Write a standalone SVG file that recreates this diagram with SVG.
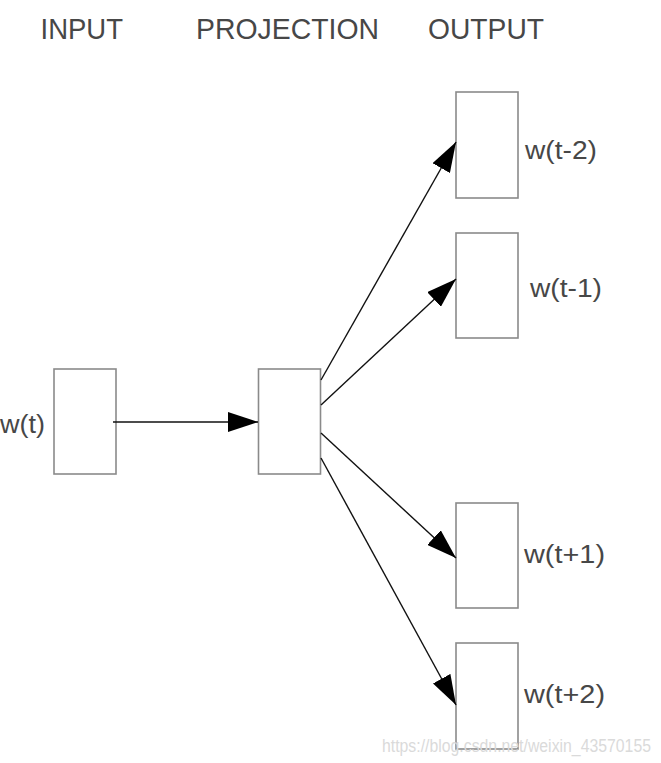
<svg xmlns="http://www.w3.org/2000/svg" width="661" height="763" viewBox="0 0 661 763">
<defs>
<style>
.box{fill:#fff;stroke:#8a8a8a;stroke-width:1.6}
.title{font-family:"Liberation Sans",Arial,sans-serif;font-size:30px;fill:#474747}
.lbl{font-family:"Liberation Sans",Arial,sans-serif;font-size:26px;fill:#474747}
.edge{stroke:#111;stroke-width:1.4;fill:none;marker-end:url(#ah)}
.wm{font-family:"Liberation Sans",Arial,sans-serif;font-size:18px;fill:#dadada}
</style>
<marker id="ah" markerUnits="userSpaceOnUse" markerWidth="30" markerHeight="20" refX="30" refY="10" orient="auto">
<path d="M0,0 L30,10 L0,20 z" fill="#000"/>
</marker>
</defs>
<rect width="661" height="763" fill="#fff"/>
<g id="titles">
<text class="title" x="40.5" y="39" textLength="82.5" lengthAdjust="spacingAndGlyphs">INPUT</text>
<text class="title" x="196" y="39" textLength="183" lengthAdjust="spacingAndGlyphs">PROJECTION</text>
<text class="title" x="428" y="39" textLength="116" lengthAdjust="spacingAndGlyphs">OUTPUT</text>
</g>
<g id="input">
<rect class="box" x="54" y="369" width="62" height="105"/>
<text class="lbl" x="0" y="433" textLength="45" lengthAdjust="spacingAndGlyphs">w(t)</text>
</g>
<g id="projection">
<rect class="box" x="258.5" y="369" width="62" height="105"/>
</g>
<g id="out-m2">
<rect class="box" x="456" y="92" width="62" height="106"/>
<text class="lbl" x="525" y="159" textLength="72" lengthAdjust="spacingAndGlyphs">w(t-2)</text>
</g>
<g id="out-m1">
<rect class="box" x="456" y="233" width="62" height="105"/>
<text class="lbl" x="530" y="297" textLength="72" lengthAdjust="spacingAndGlyphs">w(t-1)</text>
</g>
<g id="out-p1">
<rect class="box" x="456" y="503" width="62" height="105"/>
<text class="lbl" x="524" y="563" textLength="81" lengthAdjust="spacingAndGlyphs">w(t+1)</text>
</g>
<g id="out-p2">
<rect class="box" x="456" y="643" width="62" height="106"/>
<text class="lbl" x="524" y="703" textLength="81" lengthAdjust="spacingAndGlyphs">w(t+2)</text>
</g>
<g id="connectors">
<line class="edge" x1="113" y1="422" x2="258" y2="422"/>
<line class="edge" x1="321" y1="380" x2="456" y2="142"/>
<line class="edge" x1="321" y1="405" x2="456" y2="279"/>
<line class="edge" x1="321" y1="433" x2="456" y2="558"/>
<line class="edge" x1="321" y1="458" x2="456" y2="705"/>
</g>
<text class="wm" x="382" y="752" textLength="269" lengthAdjust="spacingAndGlyphs">https://blog.csdn.net/weixin_43570155</text>
</svg>
